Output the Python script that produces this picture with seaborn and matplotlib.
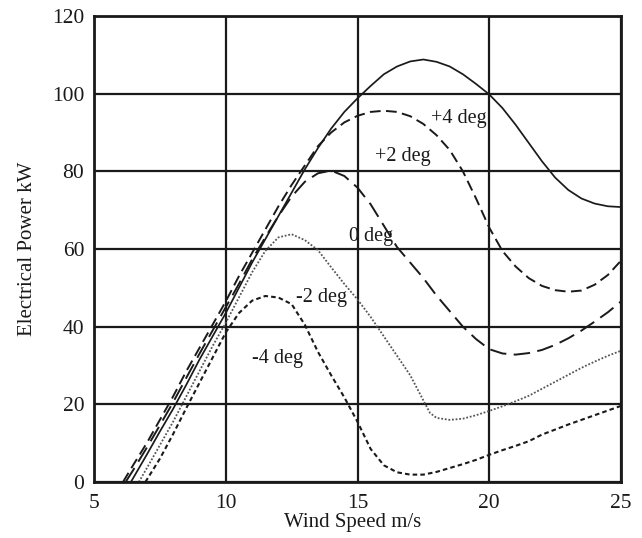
import matplotlib
matplotlib.use("Agg")
import matplotlib.pyplot as plt
import seaborn as sns
import pandas as pd

# Electrical power (kW) versus wind speed (m/s) for five blade pitch angles
speed_p4 = [6.4, 7, 7.5, 8, 8.5, 9, 9.5, 10, 10.5, 11, 11.5, 12, 12.5, 13, 13.5, 14, 14.5,
            15, 15.5, 16, 16.5, 17, 17.5, 18, 18.5, 19, 19.5, 20, 20.5, 21, 21.5, 22, 22.5,
            23, 23.5, 24, 24.5, 25]
power_p4 = [0, 7, 13, 18.8, 25, 31.5, 37.5, 43.5, 50, 56.5, 62.5, 68.5, 74.5, 80.5, 86, 91,
            95.3, 98.8, 102, 105, 107, 108.3, 108.8, 108.2, 107, 105, 102.5, 99.8, 96.3, 92,
            87.3, 82.6, 78.4, 75.2, 73, 71.7, 71, 70.8]

speed_p2 = [6.1, 6.5, 7, 7.5, 8, 8.5, 9, 9.5, 10, 10.5, 11, 11.5, 12, 12.5, 13, 13.5, 14,
            14.5, 15, 15.5, 16, 16.5, 17, 17.5, 18, 18.5, 19, 19.5, 20, 20.5, 21, 21.5, 22,
            22.5, 23, 23.5, 24, 24.5, 25]
power_p2 = [0, 4.5, 10, 16, 22, 28.5, 34.5, 40.5, 46.5, 53, 59, 65, 71, 76.5, 81.5, 86.5,
            90, 92.6, 94.3, 95.3, 95.6, 95.3, 94.2, 92.2, 89.3, 85.5, 80, 73, 65.5, 59.5,
            55.5, 52.5, 50.5, 49.4, 49, 49.3, 50.8, 53.3, 57]

speed_0 = [6.2, 6.5, 7, 7.5, 8, 8.5, 9, 9.5, 10, 10.5, 11, 11.5, 12, 12.5, 13, 13.5, 14,
           14.5, 15, 15.5, 16, 16.5, 17, 17.5, 18, 18.5, 19, 19.5, 20, 20.5, 21, 21.5, 22,
           22.5, 23, 23.5, 24, 24.5, 25]
power_0 = [0, 3.2, 8.8, 14.6, 20.5, 26.8, 33, 39, 45, 51, 57.3, 63, 68.5, 73.5, 77.3, 79.5,
           80.2, 78.8, 75.8, 71.5, 66, 60.5, 56.5, 52.5, 48, 44, 40, 36.8, 34.2, 33.1, 32.8,
           33.2, 34, 35.3, 37, 39, 41.3, 43.7, 46.5]

speed_m2 = [6.7, 7, 7.5, 8, 8.5, 9, 9.5, 10, 10.5, 11, 11.5, 12, 12.5, 13, 13.5, 14, 14.5,
            15, 15.5, 16, 16.5, 17, 17.5, 17.75, 18, 18.5, 19, 19.5, 20, 20.5, 21, 21.5, 22,
            22.5, 23, 23.5, 24, 24.5, 25]
power_m2 = [0, 3.5, 9.5, 15.5, 22, 28.5, 35, 41, 47.5, 54, 59.5, 63, 63.8, 62.3, 59.7, 55.3,
            51, 47, 42.5, 37.5, 32.5, 27.5, 21, 17.8, 16.5, 16, 16.3, 17.2, 18.3, 19.5, 20.8,
            22.2, 24, 25.8, 27.6, 29.4, 31, 32.5, 33.8]

speed_m4 = [6.95, 7.5, 8, 8.5, 9, 9.5, 10, 10.5, 11, 11.5, 12, 12.5, 13, 13.5, 14, 14.5,
            15, 15.5, 16, 16.5, 17, 17.5, 18, 18.5, 19, 19.5, 20, 20.5, 21, 21.5, 22, 22.5,
            23, 23.5, 24, 24.5, 25]
power_m4 = [0, 6, 12.3, 19, 25.5, 32, 38.5, 43.5, 46.7, 47.9, 47.5, 45.8, 40.5, 33.5, 27.5,
            21.8, 15.5, 8.5, 4.3, 2.5, 1.9, 1.9, 2.6, 3.6, 4.6, 5.7, 7, 8.2, 9.3, 10.5, 12.2,
            13.5, 14.8, 16, 17.2, 18.4, 19.6]

pitch_labels = ["+4 deg", "+2 deg", "0 deg", "-2 deg", "-4 deg"]
label_pos = [(18.85, 93.7), (16.73, 83.7), (15.51, 63.1), (13.65, 47.6), (11.98, 31.9)]

x_ticks = [5, 10, 15, 20, 25]
y_ticks = [0, 20, 40, 60, 80, 100, 120]

sns.set_style("white")
plt.rcParams["font.family"] = ["Liberation Serif", "DejaVu Serif"]

ink = "#1a1a1a"

fig = plt.figure(figsize=(6.42, 5.38), dpi=100)
ax = fig.add_axes([94 / 642, 1 - 482 / 538, 527 / 642, 466 / 538])

curves = [
    (speed_p4, power_p4, dict(linestyle="-", linewidth=1.25, color=ink)),
    (speed_p2, power_p2, dict(linestyle=(0, (5.5, 2.8)), linewidth=1.4, color=ink)),
    (speed_0, power_0, dict(linestyle=(0, (8.5, 3.8)), linewidth=1.4, color=ink)),
    (speed_m2, power_m2, dict(linestyle=(0, (1, 1)), linewidth=1.3, color="#555555")),
    (speed_m4, power_m4, dict(linestyle=(0, (2.2, 1.5)), linewidth=1.5, color=ink)),
]

for xs, ys, style in curves:
    df = pd.DataFrame({"Wind Speed": xs, "Power": ys})
    sns.lineplot(data=df, x="Wind Speed", y="Power", ax=ax, legend=False, **style)

for name, (lx, ly) in zip(pitch_labels, label_pos):
    ax.text(lx, ly, name, ha="center", va="center", fontsize=14.5, color=ink)

ax.set_xlim(5, 25)
ax.set_ylim(0, 120)
ax.set_xticks(x_ticks)
ax.set_yticks(y_ticks)
ax.set_xticklabels([str(t) for t in x_ticks])
ax.set_yticklabels([str(t) for t in y_ticks])
ax.tick_params(axis="both", length=0, labelsize=15.5, colors=ink)
ax.tick_params(axis="x", pad=9)
ax.tick_params(axis="y", pad=7)

ax.grid(True, color=ink, linewidth=1.6)
ax.set_axisbelow(True)
for sp in ax.spines.values():
    sp.set_visible(True)
    sp.set_color(ink)
    sp.set_linewidth(2.0)

ax.set_xlabel("Wind Speed m/s", fontsize=15, color=ink)
ax.set_ylabel("Electrical Power kW", fontsize=15, color=ink)
ax.xaxis.set_label_coords(0.491, -0.066)
ax.yaxis.set_label_coords(-0.108, 0.5)

fig.savefig("out.png", dpi=100, facecolor="white")
